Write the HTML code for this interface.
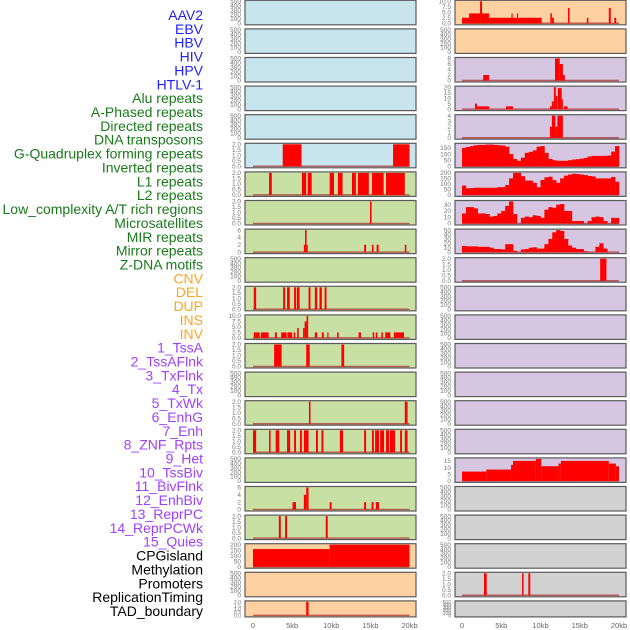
<!DOCTYPE html>
<html><head><meta charset="utf-8"><style>
html,body{margin:0;padding:0;background:#fff;width:630px;height:630px;overflow:hidden}
svg{display:block}
</style></head><body>
<svg id="chart" width="630" height="630" xmlns="http://www.w3.org/2000/svg" font-family="Liberation Sans, sans-serif"></svg>
<script>
// Track labels and colours
const trackLabels = ["AAV2","EBV","HBV","HIV","HPV","HTLV-1","Alu repeats","A-Phased repeats","Directed repeats","DNA transposons","G-Quadruplex forming repeats","Inverted repeats","L1 repeats","L2 repeats","Low_complexity A/T rich regions","Microsatellites","MIR repeats","Mirror repeats","Z-DNA motifs","CNV","DEL","DUP","INS","INV","1_TssA","2_TssAFlnk","3_TxFlnk","4_Tx","5_TxWk","6_EnhG","7_Enh","8_ZNF_Rpts","9_Het","10_TssBiv","11_BivFlnk","12_EnhBiv","13_ReprPC","14_ReprPCWk","15_Quies","CPGisland","Methylation","Promoters","ReplicationTiming","TAD_boundary"];
const labelGroupSizes = [6,13,5,15,5];
const labelGroupColors = ["#1f1fff","#1a7a1a","#ffa520","#a040ff","#000000"];
const xTickValues = [0,5,10,15,20];
const xTickLabels = ["0","5kb","10kb","15kb","20kb"];
// Left column panels: y max and segments [startKb, endKb, value]
const leftYMax = [500,500,500,500,500,2,2,2,6,500,2,10,2,500,2,2,500,6,2,200,500,2];
const leftSegs = [
 [],[],[],[],[],
 [[3.8,6.2,2],[17.9,20,2]],
 [[2.05,2.4,2],[6.25,6.8,2],[7.0,7.5,2],[9.8,10.35,2],[10.85,11.45,2],[12.65,13.15,2],[13.4,14.8,2],[15.2,16.7,2],[17.0,19.4,2]],
 [[14.95,15.15,2]],
 [[6.5,6.65,2],[6.65,6.85,6],[6.85,7.0,2],[14.2,14.45,2],[15.2,15.4,2],[15.8,16.05,2],[19.4,19.6,2]],
 [],
 [[0.1,0.4,2],[3.85,4.1,2],[4.35,4.7,2],[5.25,5.5,2],[5.6,5.95,2],[7.1,7.35,2],[7.9,8.2,2],[8.5,8.8,2],[9.15,9.4,2]],
 [[0.1,0.85,2.5],[1.0,2.0,2.5],[2.8,3.05,2.5],[3.6,4.3,2.5],[4.4,5.0,2.5],[5.2,5.4,2.5],[5.65,5.85,4.5],[6.4,6.6,4.5],[6.6,6.85,7.5],[6.85,7.05,10],[7.9,8.2,2.5],[8.8,9.05,2.5],[9.5,9.65,2.5],[10.75,10.95,2.5],[13.5,13.8,2.5],[15.3,15.5,2.5],[15.7,15.9,2.5],[16.4,16.6,2.5],[16.9,17.55,2.5],[18.0,19.3,2.5]],
 [[2.7,3.65,2],[6.8,7.25,2],[11.3,11.65,2]],
 [],
 [[7.15,7.35,2],[19.4,19.75,2]],
 [[0.0,0.4,2],[2.05,2.25,2],[2.9,3.35,2],[4.35,4.75,2],[5.25,5.5,2],[6.0,6.25,2],[6.5,7.1,2],[8.05,8.3,2],[8.75,9.0,2],[11.1,11.5,2],[14.2,14.45,2],[15.2,15.45,2],[15.6,16.1,2],[16.25,16.75,2],[17.0,17.4,2],[17.5,18.15,2],[18.8,19.05,2],[19.4,19.75,2]],
 [],
 [[5.05,5.5,2],[6.5,6.8,4],[6.8,7.1,6],[9.8,10.05,2],[14.2,14.45,2],[15.15,15.4,2],[15.7,16.1,2]],
 [[3.3,3.55,2],[4.1,4.35,2],[9.3,9.55,2]],
 [[0,9.8,160],[9.8,20,200]],
 [],
 [[6.8,7.1,2]]
];
// Right column panels
const rightYMax = [10,500,8,20,4,180,200,35,50,2,500,500,500,500,500,500,16.5,500,500,500,2,500];
const rightSegs = [
 [[0,0.9,2.5],[0.9,2.3,4.5],[2.3,2.55,10],[2.55,3.45,4.5],[3.45,10.15,2.5],[6.3,6.45,4.5],[7.0,7.15,4.5],[11.25,11.45,4.5],[11.45,11.7,2.5],[13.5,13.7,7],[15.9,16.1,2.5],[18.7,18.95,7],[19.4,19.65,2.5]],
 [],
 [[2.7,3.45,2],[11.85,12.45,8],[12.45,12.85,6],[12.85,13.1,2]],
 [[1.65,1.9,5],[1.9,3.45,2.5],[5.6,6.5,2.5],[11.2,11.45,2.5],[11.45,11.7,7],[11.7,11.95,20],[11.95,12.15,12],[12.2,12.7,19],[12.7,12.85,9],[13.0,13.45,2.5]],
 [[11.2,11.45,2],[11.45,11.9,4],[11.9,12.15,2],[12.15,12.85,4]],
 [],[],[],[],
 [[17.6,18.4,2]],
 [],[],[],[],[],[],
 [[0,3.1,7],[3.1,6.25,8.5],[6.25,6.5,12],[6.5,9.4,15],[9.4,10.1,16.5],[10.1,12.3,11],[12.3,12.6,13],[12.6,18.7,15],[18.7,19.6,13],[19.6,20,11]],
 [],[],[],
 [[2.8,3.15,2],[7.65,7.85,2],[8.45,8.7,2]],
 []
];
// Profile tracks (0.5kb bins)
const profileRow5 = [150,158,165,172,175,175,178,178,175,172,170,160,100,60,45,70,110,118,130,160,165,110,60,50,45,45,45,50,55,58,62,68,80,85,85,85,85,88,120,165];
const profileRow6 = [85,60,62,65,65,65,65,65,65,70,70,90,150,200,200,170,130,130,110,70,135,160,165,135,110,150,175,185,192,190,185,180,172,168,150,150,150,150,163,120];
const profileRow7 = [16,26,26,24,16,16,15,11,12,16,20,28,35,15,0,9,11,10,13,12,9,22,26,25,30,31,20,20,4,4,4,0,4,10,11,10,4,0,9,9];
const profileRow8 = [14,13,13,13,12,12,12,10,7,7,6,18,18,3,0,6,7,10,11,8,8,18,30,45,50,48,30,15,10,7,7,2,0,0,12,20,8,0,0,0];
const profiles = {5:profileRow5,6:profileRow6,7:profileRow7,8:profileRow8};

const tickSets = {500:[0,100,200,300,400,500],2:[0,0.5,1,1.5,2],6:[0,2,4,6],10:[0,2.5,5,7.5,10],200:[0,50,100,150,200],8:[0,2,4,6,8],20:[0,5,10,15,20],4:[0,1,2,3,4],180:[0,50,100,150],35:[0,10,20,30],50:[0,10,20,30,40,50],16.5:[0,5,10,15]};
const NS="http://www.w3.org/2000/svg";
const svg=document.getElementById('chart');
function mk(tag,attrs,parent){const e=document.createElementNS(NS,tag);for(const k in attrs)e.setAttribute(k,attrs[k]);(parent||svg).appendChild(e);return e;}

// labels
let gi=0,cnt=0;
trackLabels.forEach((t,i)=>{
  while(cnt>=labelGroupSizes[gi]){gi++;cnt=0;}
  cnt++;
  const e=mk('text',{x:203,y:15+i*13.86+5,'text-anchor':'end','font-size':'14',fill:labelGroupColors[gi]});
  
  
  e.textContent=t;
});

function rowTop(i){return 0.3+i*28.6;}
function rowH(i){return i===21?16:24.5;}
function bg(col,i){
  if(col===0) return i<6?"#c8e4ec":(i<19?"#c8e0a4":"#ffd0a0");
  return i<2?"#ffd0a0":(i<17?"#d6c6e2":"#d2d2d2");
}
function fmt(v,ym){
  if(ym===2||ym===10) return v.toFixed(1);
  return String(v);
}
function drawPanel(col,i,ymax,segs,prof){
  const bx=col===0?245:455, bw=171;
  const x0=col===0?253:462, xs=(col===0?156.5:157)/20;
  const top=rowTop(i), h=rowH(i);
  const yb=top+h-1.5, yt=top+1;
  const sx=kb=>x0+kb*xs;
  const sy=v=>yb-(v/ymax)*(yb-yt);
  const g=mk('g',{});
  
  
  mk('rect',{x:bx,y:top,width:bw,height:h,fill:bg(col,i),stroke:'#5a5a5a','stroke-width':1.2},g);
  const ticks=tickSets[ymax]||[0,ymax];
  ticks.forEach(v=>{
    const t=mk('text',{x:bx-4,y:sy(Math.min(v,ymax))+2.2,'text-anchor':'end','font-size':(i===21?'5':'6.5'),fill:'#777'},g);
    
    
    t.textContent=fmt(v,ymax);
  });
  const empty=!prof && segs.length===0;
  if(!empty) mk('line',{x1:sx(0),x2:sx(20),y1:yb,y2:yb,stroke:'rgba(170,40,40,0.7)','stroke-width':1.5},g);
  if(prof){
    prof.forEach((v,k)=>{
      if(v<=0)return;
      const r=mk('rect',{x:sx(k*0.5),y:sy(v),width:sx((k+1)*0.5)-sx(k*0.5)+0.3,height:yb-sy(v),fill:'#ff0000'},g);
      
      
    });
  }
  segs.forEach(s=>{
    const r=mk('rect',{x:sx(s[0]),y:sy(s[2]),width:Math.max(1,sx(s[1])-sx(s[0])),height:yb-sy(s[2]),fill:'#ff0000'},g);
    
    
  });
}
for(let i=0;i<22;i++){
  drawPanel(0,i,leftYMax[i],leftSegs[i],null);
  drawPanel(1,i,rightYMax[i],rightSegs[i],profiles[i]||null);
}
[0,1].forEach(col=>{
  const x0=col===0?253:462, xs=(col===0?156.5:157)/20;
  xTickValues.forEach((v,k)=>{
    const t=mk('text',{x:x0+v*xs,y:628,'text-anchor':'middle','font-size':'7.5',fill:'#666'});
    
    
    t.textContent=xTickLabels[k];
  });
});
</script>
</body></html>
